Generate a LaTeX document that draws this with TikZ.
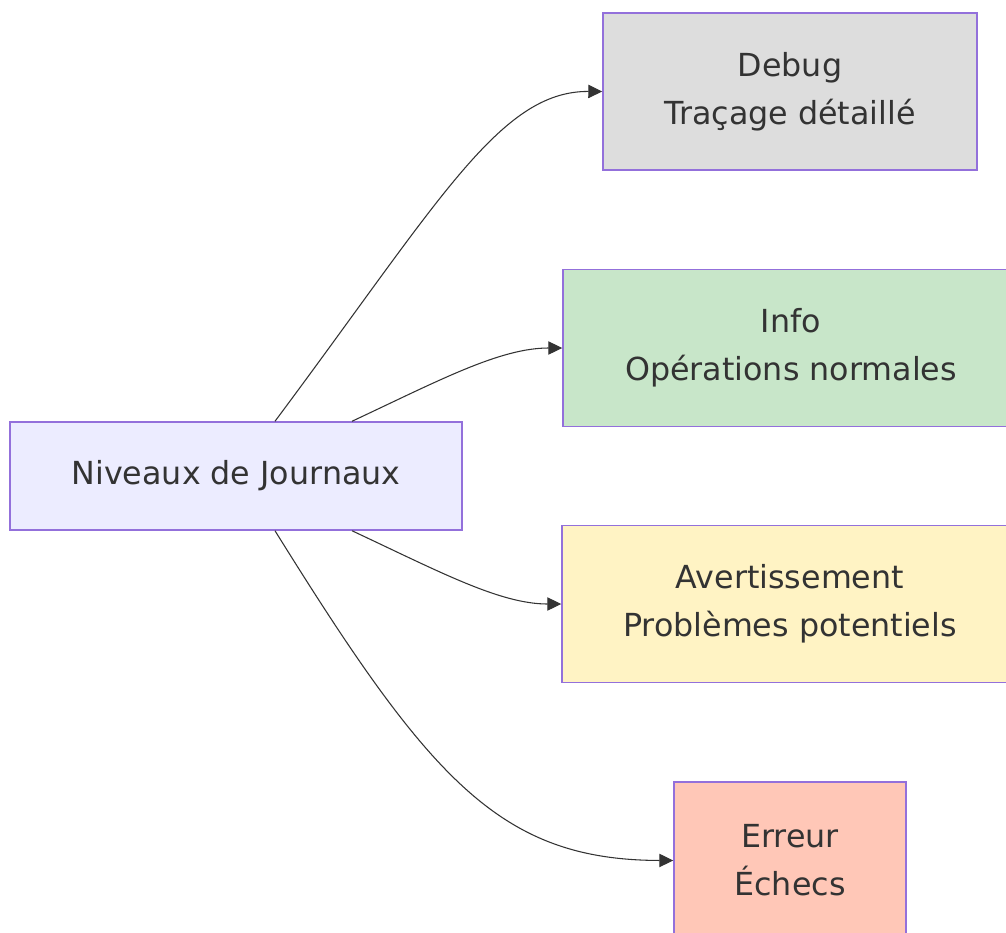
\documentclass[tikz,border=0pt]{standalone}
\usepackage{fontspec}
\setmainfont{DejaVu Sans}
\usepackage{xcolor}
\usepackage{tikz}
\usetikzlibrary{arrows.meta}

\definecolor{txtgray}{HTML}{333333}
\definecolor{linegray}{HTML}{333333}
\definecolor{edgepurple}{HTML}{9370DB}
\definecolor{rootfill}{HTML}{ECECFF}
\definecolor{debugfill}{HTML}{DDDDDD}
\definecolor{infofill}{HTML}{C8E6C9}
\definecolor{warnfill}{HTML}{FFF3C4}
\definecolor{errfill}{HTML}{FFC7B7}

\begin{document}
\begin{tikzpicture}[
  x=0.75pt, y=-0.75pt,
  level/.style={draw=edgepurple, line width=1.1pt, align=center, text=txtgray,
    font=\fontsize{23.8}{36}\selectfont, minimum height=117.75pt, inner sep=0pt},
  root/.style={level, fill=rootfill, minimum width=339pt, minimum height=81pt},
  arrow/.style={-{Triangle[length=10.5pt, width=10pt]}, draw=linegray, line width=0.8pt}
]
\useasboundingbox (0,0) rectangle (1006,932);

\node[root] (root) at (236,476) {Niveaux de Journaux};
\node[level, fill=debugfill, minimum width=280.5pt] (debug) at (790,91.5) {Debug\\Traçage détaillé};
\node[level, fill=infofill, minimum width=342pt] (info) at (791,348) {Info\\Opérations normales};
\node[level, fill=warnfill, minimum width=342pt] (warn) at (790,604) {Avertissement\\Problèmes potentiels};
\node[level, fill=errfill, minimum width=174pt] (err) at (790,860.5) {Erreur\\Échecs};

\draw[arrow] ([xshift=29.25pt]root.north) .. controls (440,200) and (500,91) .. (debug.west);
\draw[arrow] ([xshift=87pt]root.north) .. controls (440,380) and (500,348) .. (info.west);
\draw[arrow] ([xshift=87pt]root.south) .. controls (440,572) and (500,604) .. (warn.west);
\draw[arrow] ([xshift=29.25pt]root.south) .. controls (430,780) and (500,860) .. (err.west);
\end{tikzpicture}
\end{document}
